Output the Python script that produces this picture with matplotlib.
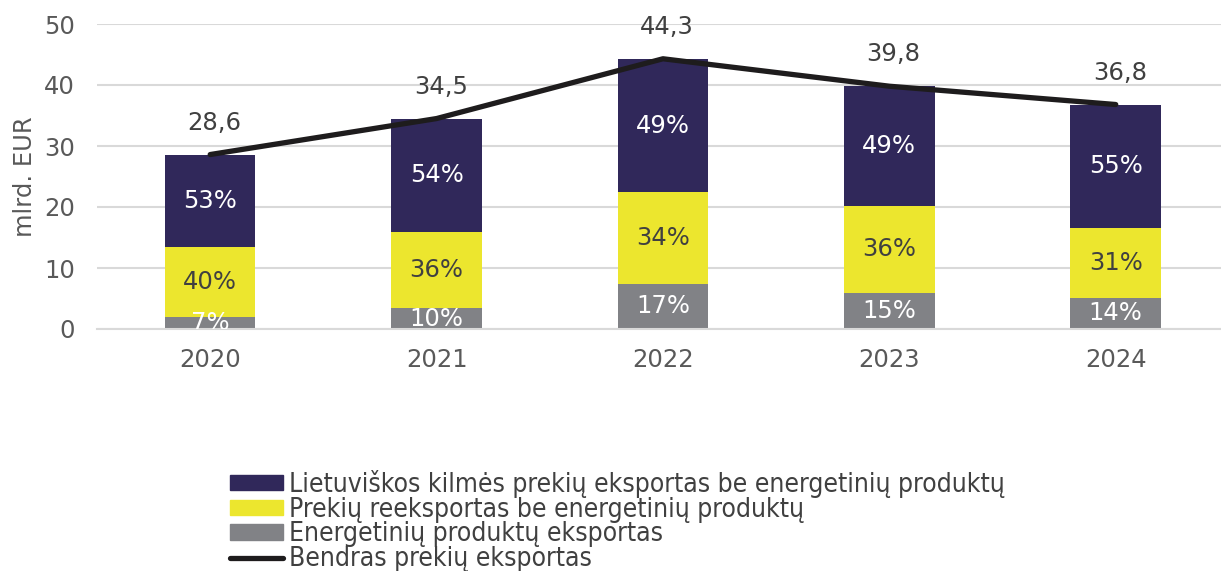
import matplotlib
matplotlib.use("Agg")
import matplotlib.pyplot as plt
from matplotlib.patches import Patch
from matplotlib.lines import Line2D

years = ["2020", "2021", "2022", "2023", "2024"]
energy = [2.0, 3.4, 7.4, 5.9, 5.1]
reexport = [11.4, 12.5, 15.0, 14.3, 11.5]
domestic = [15.2, 18.6, 21.9, 19.6, 20.2]
totals = [28.6, 34.5, 44.3, 39.8, 36.8]
energy_pct = ["7%", "10%", "17%", "15%", "14%"]
reexport_pct = ["40%", "36%", "34%", "36%", "31%"]
domestic_pct = ["53%", "54%", "49%", "49%", "55%"]
total_labels = ["28,6", "34,5", "44,3", "39,8", "36,8"]
series_names = [
    "Lietuviškos kilmės prekių eksportas be energetinių produktų",
    "Prekių reeksportas be energetinių produktų",
    "Energetinių produktų eksportas",
    "Bendras prekių eksportas",
]

C_DARK = "#30285a"
C_YEL = "#ece62e"
C_GRAY = "#818286"
C_LINE = "#1e1c1d"
C_TXT = "#595959"

plt.rcParams['font.family'] = ['DejaVu Sans']
FS = 17.5

fig = plt.figure(figsize=(12.21, 5.71), dpi=100)
ax = fig.add_axes([97/1221, 1 - 329/571, 1 - 97/1221, (329 - 24)/571])

x = list(range(len(years)))
w = 0.4
ax.bar(x, energy, w, color=C_GRAY, zorder=2)
bottom2 = [e for e in energy]
ax.bar(x, reexport, w, bottom=bottom2, color=C_YEL, zorder=2)
bottom3 = [e + r for e, r in zip(energy, reexport)]
ax.bar(x, domestic, w, bottom=bottom3, color=C_DARK, zorder=2)
ax.plot(x, totals, color=C_LINE, lw=3.8, solid_capstyle='round', zorder=3)

for i in x:
    ax.text(i, energy[i] / 2, energy_pct[i], ha='center', va='center',
            color='white', fontsize=FS, clip_on=True, zorder=4)
    ax.text(i, bottom2[i] + reexport[i] / 2, reexport_pct[i], ha='center', va='center',
            color='#404040', fontsize=FS, zorder=4)
    ax.text(i, bottom3[i] + domestic[i] / 2, domestic_pct[i], ha='center', va='center',
            color='white', fontsize=FS, zorder=4)
    ax.annotate(total_labels[i], (i, totals[i]), xytext=(3, 23), textcoords='offset points',
                ha='center', va='center', fontsize=FS, color='#404040', zorder=4)

ax.set_xlim(-0.5, 4.465)
ax.set_ylim(0, 50)
ax.set_yticks([0, 10, 20, 30, 40, 50])
ax.set_xticks(x)
ax.set_xticklabels(years)
ax.tick_params(axis='both', length=0, labelsize=FS, labelcolor=C_TXT)
ax.tick_params(axis='y', pad=16)
ax.tick_params(axis='x', pad=14)
ax.grid(axis='y', color='#d9d9d9', lw=1.5, zorder=0)
ax.set_axisbelow(True)
for s in ['top', 'right', 'left']:
    ax.spines[s].set_visible(False)
ax.spines['bottom'].set_color('#d9d9d9')
ax.spines['bottom'].set_linewidth(1.5)
ax.set_ylabel("mlrd. EUR", fontsize=FS, color=C_TXT, labelpad=5)

handles = [Patch(color=C_DARK), Patch(color=C_YEL), Patch(color=C_GRAY),
           Line2D([0], [0], color=C_LINE, lw=3.8, solid_capstyle='round')]
leg = fig.legend(handles, series_names, loc='upper left',
                 bbox_to_anchor=(230/1221, 1 - 470/571), frameon=False,
                 prop={'size': 19, 'stretch': 'condensed'},
                 handlelength=2.0, handleheight=0.5, handletextpad=0.25,
                 labelspacing=-0.05, borderpad=0, borderaxespad=0)
for t in leg.get_texts():
    t.set_color('#404040')

fig.savefig("out.png", dpi=100)
